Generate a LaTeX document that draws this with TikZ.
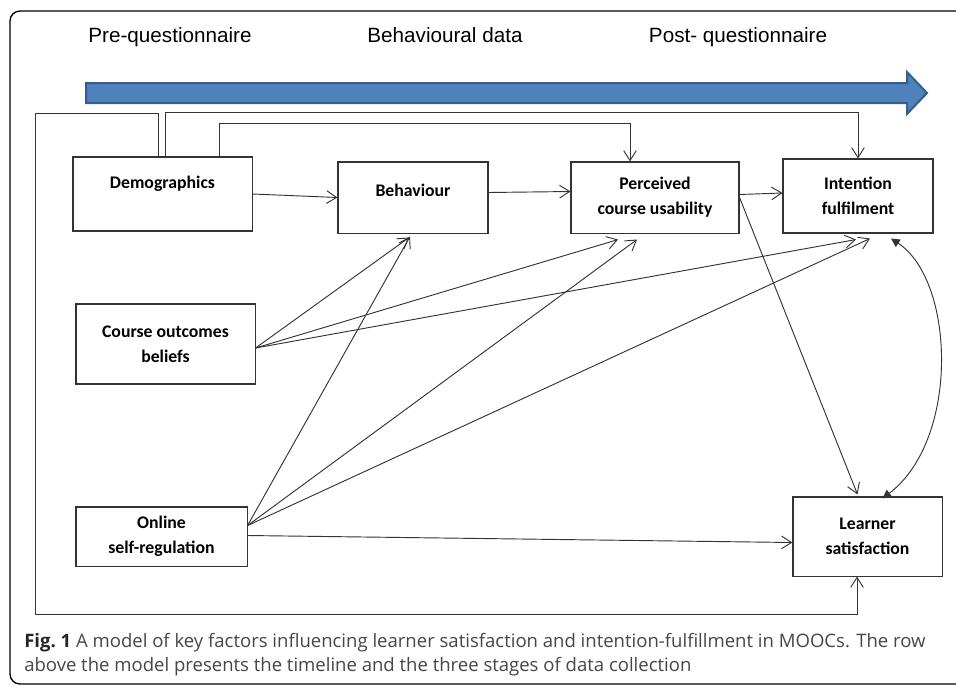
\documentclass[tikz,border=0pt]{standalone}
\usepackage{fontspec}
\setmainfont{Carlito}
\newfontfamily\headfont{Liberation Sans}
\newfontfamily\capfont{Open Sans}
\usepackage{tikz}
\usetikzlibrary{positioning,arrows.meta,calc}
\definecolor{tlfill}{RGB}{79,129,189}
\definecolor{tldraw}{RGB}{56,93,138}
\definecolor{capgray}{RGB}{70,70,70}

\begin{document}
\begin{tikzpicture}
 		[x=0.75pt, y=-0.75pt,
 		box/.style={rectangle, draw=black!80, line width=0.8pt, align=center, inner sep=0pt,
 			font=\fontsize{13.3pt}{18.5pt}\selectfont\bfseries},
 		stage/.style={anchor=base, inner sep=0pt, font=\headfont\fontsize{15.5pt}{18pt}\selectfont},
 		link/.style={draw=black!80, line width=0.7pt, -{Straight Barb[length=7.5pt,width=9.5pt]}},
 		both/.style={draw=black!80, line width=0.7pt,
 			{Triangle[length=6.5pt,width=6.5pt]}-{Triangle[length=6.5pt,width=6.5pt]}},
 		caption/.style={anchor=base west, inner sep=0pt, text=capgray,
 			font=\capfont\fontsize{13.9pt}{16pt}\selectfont},
 		]
 		\useasboundingbox (0,0) rectangle (956,686);
 		\clip (0,0) rectangle (956,686);
 		% frame
 		\draw[line width=1pt, rounded corners=7.5pt] (10,684) rectangle (1000,11);
 		
 		% timeline
 		\node[stage] (pre) at (170,42) {Pre-questionnaire};
 		\node[stage] (bdata) at (445,42) {Behavioural data};
 		\node[stage] (post) at (738,42) {Post- questionnaire};
 		\draw[fill=tlfill, draw=tldraw, line width=1.5pt]
 			(86,83) -- (907,83) -- (907,72) -- (927,93) -- (907,114) -- (907,103) -- (86,103) -- cycle;
 		
 		% factors
 		\node[box, minimum width=134.3pt, minimum height=55.5pt, text depth=17.7pt] (demo) at (162.5,194) {Demographics};
 		\node[box, minimum width=112.5pt, minimum height=53.3pt, text depth=11.2pt] (beh) at (413,197.5) {Behaviour};
 		\node[box, minimum width=126pt, minimum height=53.3pt] (perc) at (655,197.5) {Perceived\\course usability};
 		\node[box, minimum width=112.5pt, minimum height=55.5pt] (int) at (858,196) {Intention\\fulfilment};
 		\node[box, minimum width=134.3pt, minimum height=60pt] (co) at (165.5,344) {Course outcomes\\beliefs};
 		\node[box, minimum width=128.3pt, minimum height=44.3pt] (os) at (161.5,536.5) {Online\\self-regulation};
 		\node[box, minimum width=111.8pt, minimum height=59.3pt] (learn) at (867.5,536.5) {Learner\\satisfaction};
 		
 		\coordinate (lt) at (35,113);
 		\coordinate (lb) at (35,614);
 		
 		% main path
 		\draw[link] (demo.east) -- (beh.west);
 		\draw[link] ($(beh.east)+(0,-5)$) -- ($(perc.west)+(0,-6)$);
 		\draw[link] ($(perc.east)+(0,-3)$) -- ($(int.west)+(0,-3)$);
 		\draw[link] (perc.east) -- ($(learn.north)+(-10,-2)$);
 		
 		% demographics to later stages
 		\draw[link] ($(demo.north)+(-4.5,0)$) |- (lt) -- (lb) -| ($(learn.south)+(-10.5,0)$);
 		\draw[link] ($(demo.north)+(2.5,0)$) -- ++(0,-44) -| (int.north);
 		\draw[link] ($(demo.north)+(56.5,0)$) -- ++(0,-33) -| ($(perc.north)+(-25,0)$);
 		
 		% course outcomes beliefs
 		\draw[link] ($(co.east)+(0,4)$) -- ($(beh.south)+(-4,4)$);
 		\draw[link] ($(co.east)+(0,4)$) -- ($(perc.south)+(-37,6)$);
 		\draw[link] ($(co.east)+(0,4)$) -- ($(int.south)+(-2,6)$);
 		
 		% online self-regulation
 		\draw[link] ($(os.east)+(0,-11)$) -- ($(beh.south)+(-3,3)$);
 		\draw[link] ($(os.east)+(0,-11)$) -- ($(perc.south)+(-18,6)$);
 		\draw[link] ($(os.east)+(0,-11)$) -- ($(int.south)+(12,5)$);
 		\draw[link] ($(os.east)+(0,-1)$) -- ($(learn.west)+(0,6)$);
 		
 		% covariance
 		\draw[both] ($(int.south)+(33,5)$) .. controls +(64,42) and +(77.5,-59) .. ($(learn.north)+(15,2)$);
 		
 		% caption
 		\node[caption] (cap1) at (24,647) {{\color{black!85}\bfseries Fig.~1} A model of key factors influencing learner satisfaction and intention-fulfillment in MOOCs. The row};
 		\node[caption] (cap2) at (24,671) {above the model presents the timeline and the three stages of data collection};
 	\end{tikzpicture}
\end{document}
